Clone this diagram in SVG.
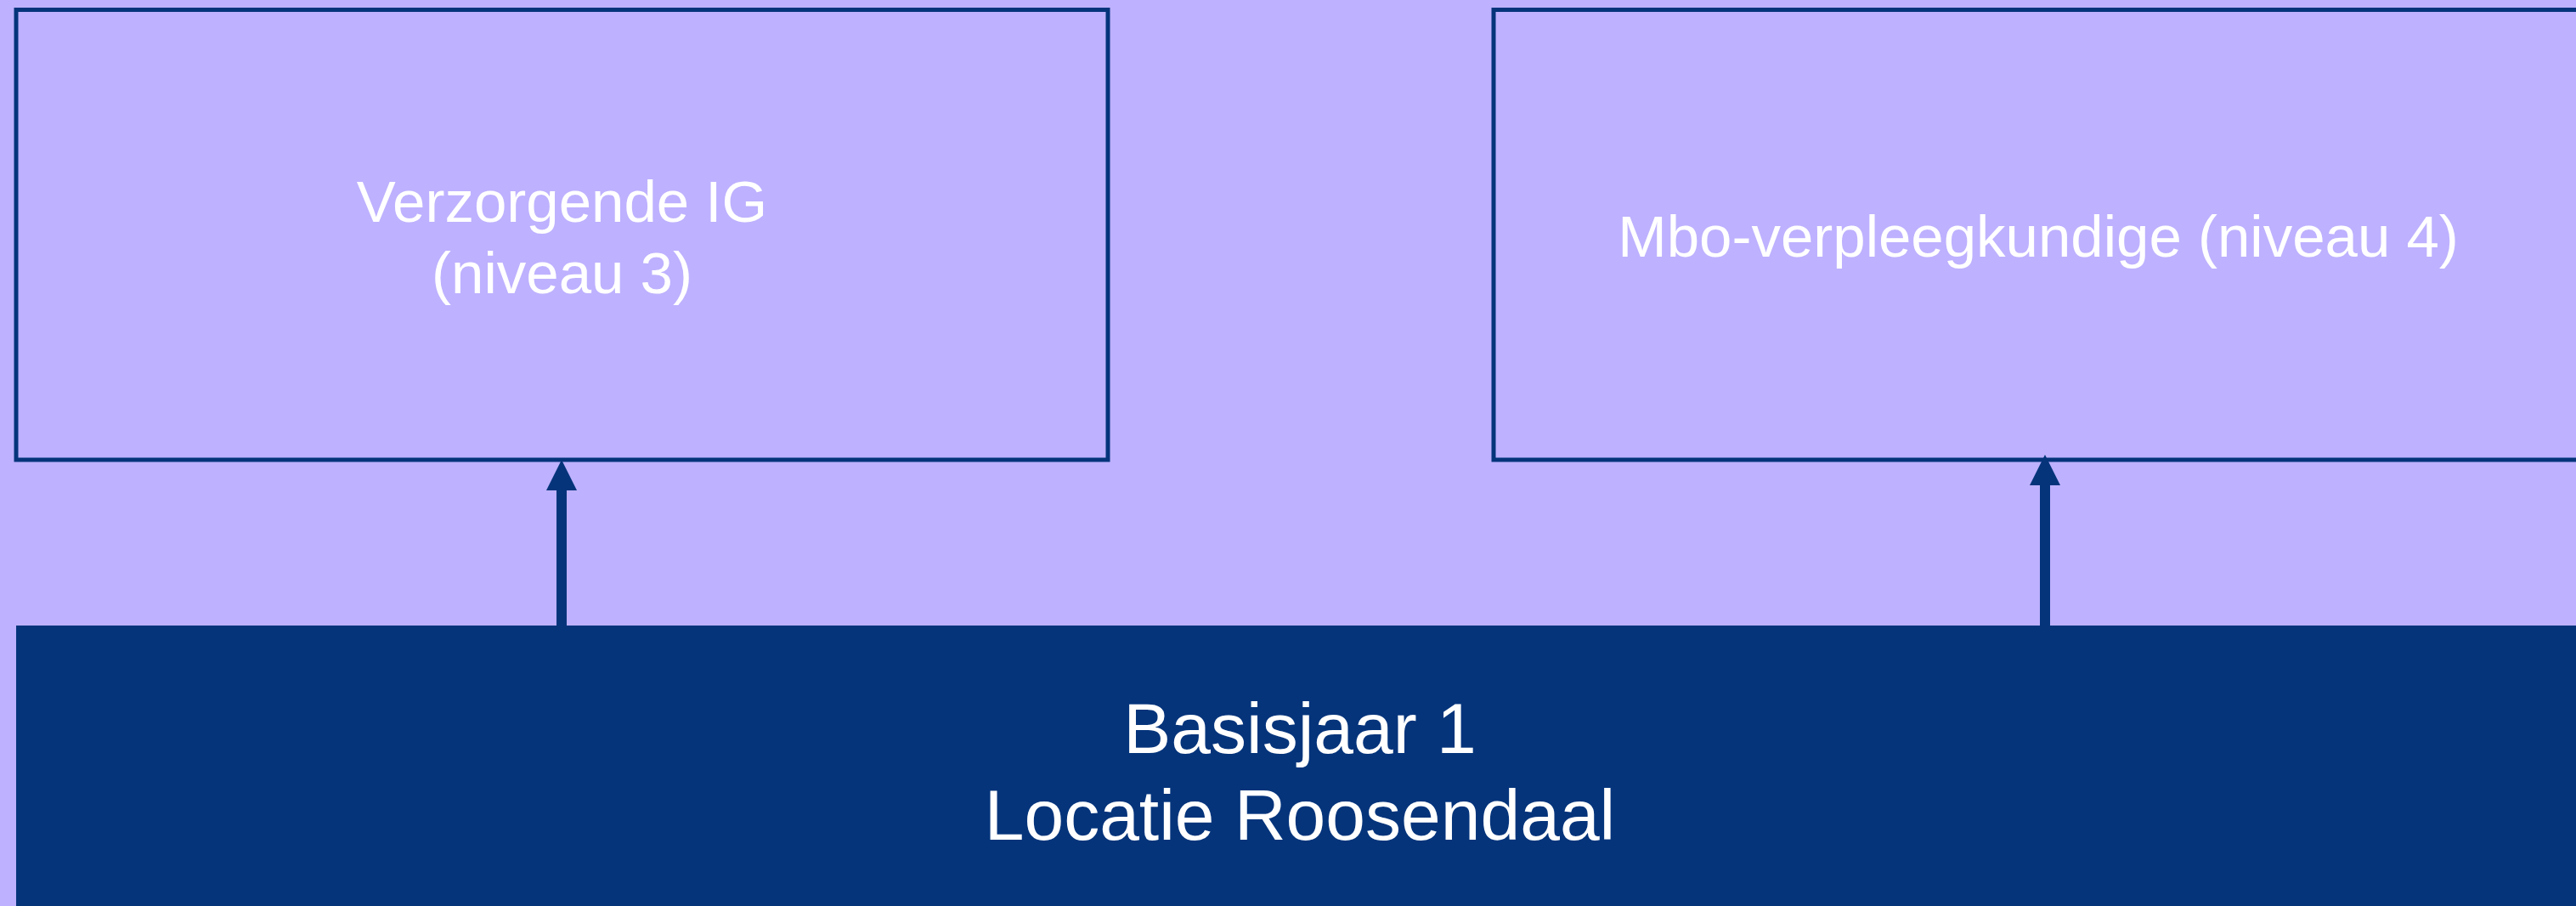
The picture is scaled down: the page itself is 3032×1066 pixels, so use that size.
<svg xmlns="http://www.w3.org/2000/svg" width="3032" height="1066" viewBox="0 0 3032 1066">
  <style>
    .box { fill: #BEB1FF; stroke: #05347B; stroke-width: 5; }
    .band { fill: #05347B; }
    .t { font-family: "Liberation Sans", Arial, sans-serif; fill: #FFFFFF; text-anchor: middle; }
    .conn { stroke: #05347B; stroke-width: 12; fill: none; }
    .head { fill: #05347B; }
  </style>
  <rect x="0" y="0" width="3032" height="1066" fill="#BEB1FF"/>
  <g id="node-verzorgende">
    <rect class="box" x="19" y="11.5" width="1285" height="529.5"/>
    <text class="t" x="661.5" y="261" font-size="69">Verzorgende IG</text>
    <text class="t" x="661.5" y="345" font-size="69">(niveau 3)</text>
  </g>
  <g id="node-mbo">
    <rect class="box" x="1758" y="11.5" width="1290" height="529.5"/>
    <text class="t" x="2399" y="302" font-size="69">Mbo-verpleegkundige (niveau 4)</text>
  </g>
  <g id="node-basisjaar">
    <rect class="band" x="19" y="736" width="3030" height="340"/>
    <text class="t" x="1530" y="886" font-size="84">Basisjaar 1</text>
    <text class="t" x="1530" y="988" font-size="84">Locatie Roosendaal</text>
  </g>
  <g id="connectors">
    <line class="conn" x1="661" y1="736" x2="661" y2="575"/>
    <polygon class="head" points="661,541 643,577 679,577"/>
    <line class="conn" x1="2407" y1="736" x2="2407" y2="569"/>
    <polygon class="head" points="2407,535 2389,571 2425,571"/>
  </g>
</svg>
